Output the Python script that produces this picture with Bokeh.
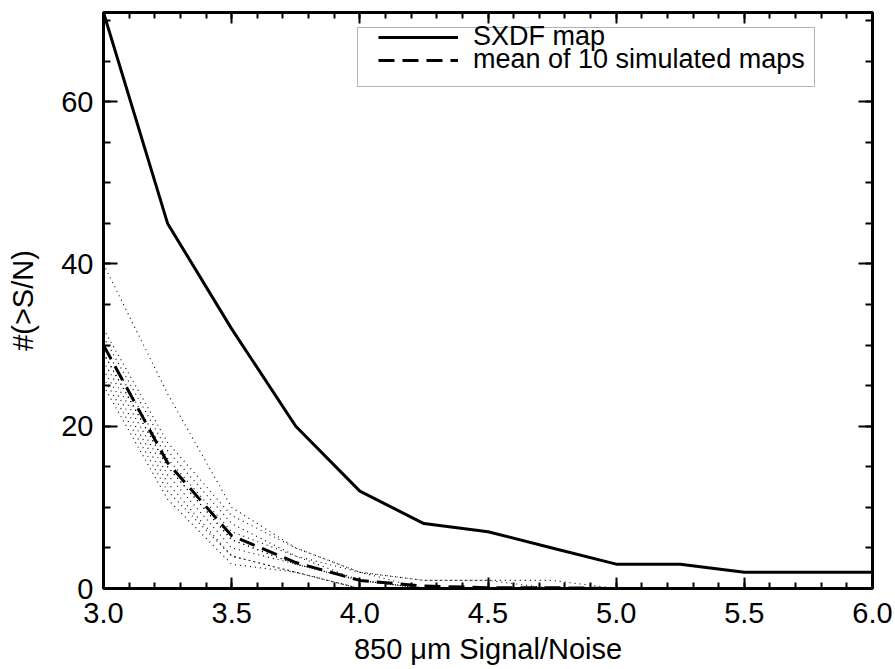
from bokeh.plotting import figure
from bokeh.models import (Range1d, LinearAxis, SingleIntervalTicker, Legend, LegendItem,
                          CustomJSTickFormatter, BoxAnnotation)
from bokeh.embed import file_html
from bokeh.resources import INLINE

# ---- data ----
sn = [3.0, 3.25, 3.5, 3.75, 4.0, 4.25, 4.5, 4.75, 5.0, 5.25, 5.5, 5.75, 6.0]
sxdf = [71, 45, 32, 20, 12, 8, 7, 5, 3, 3, 2, 2, 2]
mean_sim = [30, 15.5, 6.5, 3.2, 1.0, 0.3, 0.1, 0.1, 0, 0, 0, 0, 0]

sim1 = [40, 24, 10, 5, 2, 1, 1, 1, 0, 0, 0, 0, 0]
sim2 = [32, 18, 9, 5, 2, 1, 1, 0, 0, 0, 0, 0, 0]
sim3 = [31, 17, 8, 4, 2, 0, 0, 0, 0, 0, 0, 0, 0]
sim4 = [30, 16, 7, 4, 1, 0, 0, 0, 0, 0, 0, 0, 0]
sim5 = [29, 15, 6, 3, 1, 0, 0, 0, 0, 0, 0, 0, 0]
sim6 = [29, 15, 6, 3, 1, 0, 0, 0, 0, 0, 0, 0, 0]
sim7 = [28, 14, 5, 3, 1, 0, 0, 0, 0, 0, 0, 0, 0]
sim8 = [27, 13, 4, 2, 0, 0, 0, 0, 0, 0, 0, 0, 0]
sim9 = [26, 12, 4, 2, 0, 0, 0, 0, 0, 0, 0, 0, 0]
sim10 = [25, 11, 3, 2, 0, 0, 0, 0, 0, 0, 0, 0, 0]
sims = [sim1, sim2, sim3, sim4, sim5, sim6, sim7, sim8, sim9, sim10]

x_tick_values = [3.0, 3.5, 4.0, 4.5, 5.0, 5.5, 6.0]
x_tick_labels = ["3.0", "3.5", "4.0", "4.5", "5.0", "5.5", "6.0"]
y_tick_values = [0, 20, 40, 60]
y_tick_labels = ["0", "20", "40", "60"]

FONT = "Liberation Sans"

p = figure(width=895, height=669,
           x_range=Range1d(3.0, 6.0), y_range=Range1d(0, 71),
           output_backend="svg", toolbar_location=None,
           min_border_left=103, min_border_right=23,
           min_border_top=12, min_border_bottom=81,
           x_axis_label="850 \u03bcm Signal/Noise", y_axis_label="#(>S/N)")
p.xgrid.visible = False
p.ygrid.visible = False
p.outline_line_color = "black"
p.outline_line_width = 3
p.background_fill_color = "white"
p.border_fill_color = "white"


def style_axis(ax, major_in, minor_in, labels=True):
    ax.axis_line_color = "black"
    ax.axis_line_width = 3
    ax.major_tick_in = major_in
    ax.major_tick_out = 0
    ax.minor_tick_in = minor_in
    ax.minor_tick_out = 0
    ax.major_tick_line_width = 2
    ax.minor_tick_line_width = 2
    ax.major_tick_line_color = "black"
    ax.minor_tick_line_color = "black"
    if labels:
        ax.major_label_text_font = FONT
        ax.major_label_text_font_size = "29px"
        ax.major_label_text_color = "black"
        ax.axis_label_text_font = FONT
        ax.axis_label_text_font_size = "29px"
        ax.axis_label_text_font_style = "normal"
        ax.axis_label_text_color = "black"
    else:
        ax.formatter = CustomJSTickFormatter(code="return ''")
        ax.major_label_standoff = 0


xax = p.xaxis[0]
xax.ticker = SingleIntervalTicker(interval=0.5, num_minor_ticks=5)
xax.major_label_overrides = dict(zip(x_tick_values, x_tick_labels))
style_axis(xax, 11, 6)
xax.major_label_standoff = 14
xax.axis_label_standoff = 7

yax = p.yaxis[0]
yax.ticker = SingleIntervalTicker(interval=20, num_minor_ticks=4)
yax.major_label_overrides = dict(zip(y_tick_values, y_tick_labels))
style_axis(yax, 14, 7)
yax.major_label_standoff = 10
yax.axis_label_standoff = 19

top_ax = LinearAxis(ticker=SingleIntervalTicker(interval=0.5, num_minor_ticks=5))
style_axis(top_ax, 11, 6, labels=False)
p.add_layout(top_ax, "above")

right_ax = LinearAxis(ticker=SingleIntervalTicker(interval=20, num_minor_ticks=4))
style_axis(right_ax, 14, 7, labels=False)
p.add_layout(right_ax, "right")

for s in sims:
    p.line(sn, s, line_color="black", line_width=1.1, line_dash="1 4")

r_mean = p.line(sn, mean_sim, line_color="black", line_width=3, line_dash="16 8")
r_sxdf = p.line(sn, sxdf, line_color="black", line_width=3)

# legend frame
p.add_layout(BoxAnnotation(left=357, right=814, top=27, bottom=86,
                           left_units="canvas", right_units="canvas",
                           top_units="canvas", bottom_units="canvas",
                           fill_color="white", fill_alpha=1,
                           line_color="black", line_width=1, level="overlay"))


def make_legend(label, renderer, loc):
    lg = Legend(items=[LegendItem(label=label, renderers=[renderer])], location=loc)
    lg.label_text_font = FONT
    lg.label_text_font_size = "27px"
    lg.label_text_color = "black"
    lg.glyph_width = 80
    lg.glyph_height = 20
    lg.label_standoff = 15
    lg.label_height = 20
    lg.padding = 0
    lg.spacing = 0
    lg.margin = 0
    lg.border_line_color = None
    lg.background_fill_alpha = 0
    lg.level = "overlay"
    return lg


p.add_layout(make_legend("SXDF map", r_sxdf, (275, 536)))
p.add_layout(make_legend("mean of 10 simulated maps", r_mean, (275, 513)))

open("out.html", "w").write(file_html(p, INLINE))
